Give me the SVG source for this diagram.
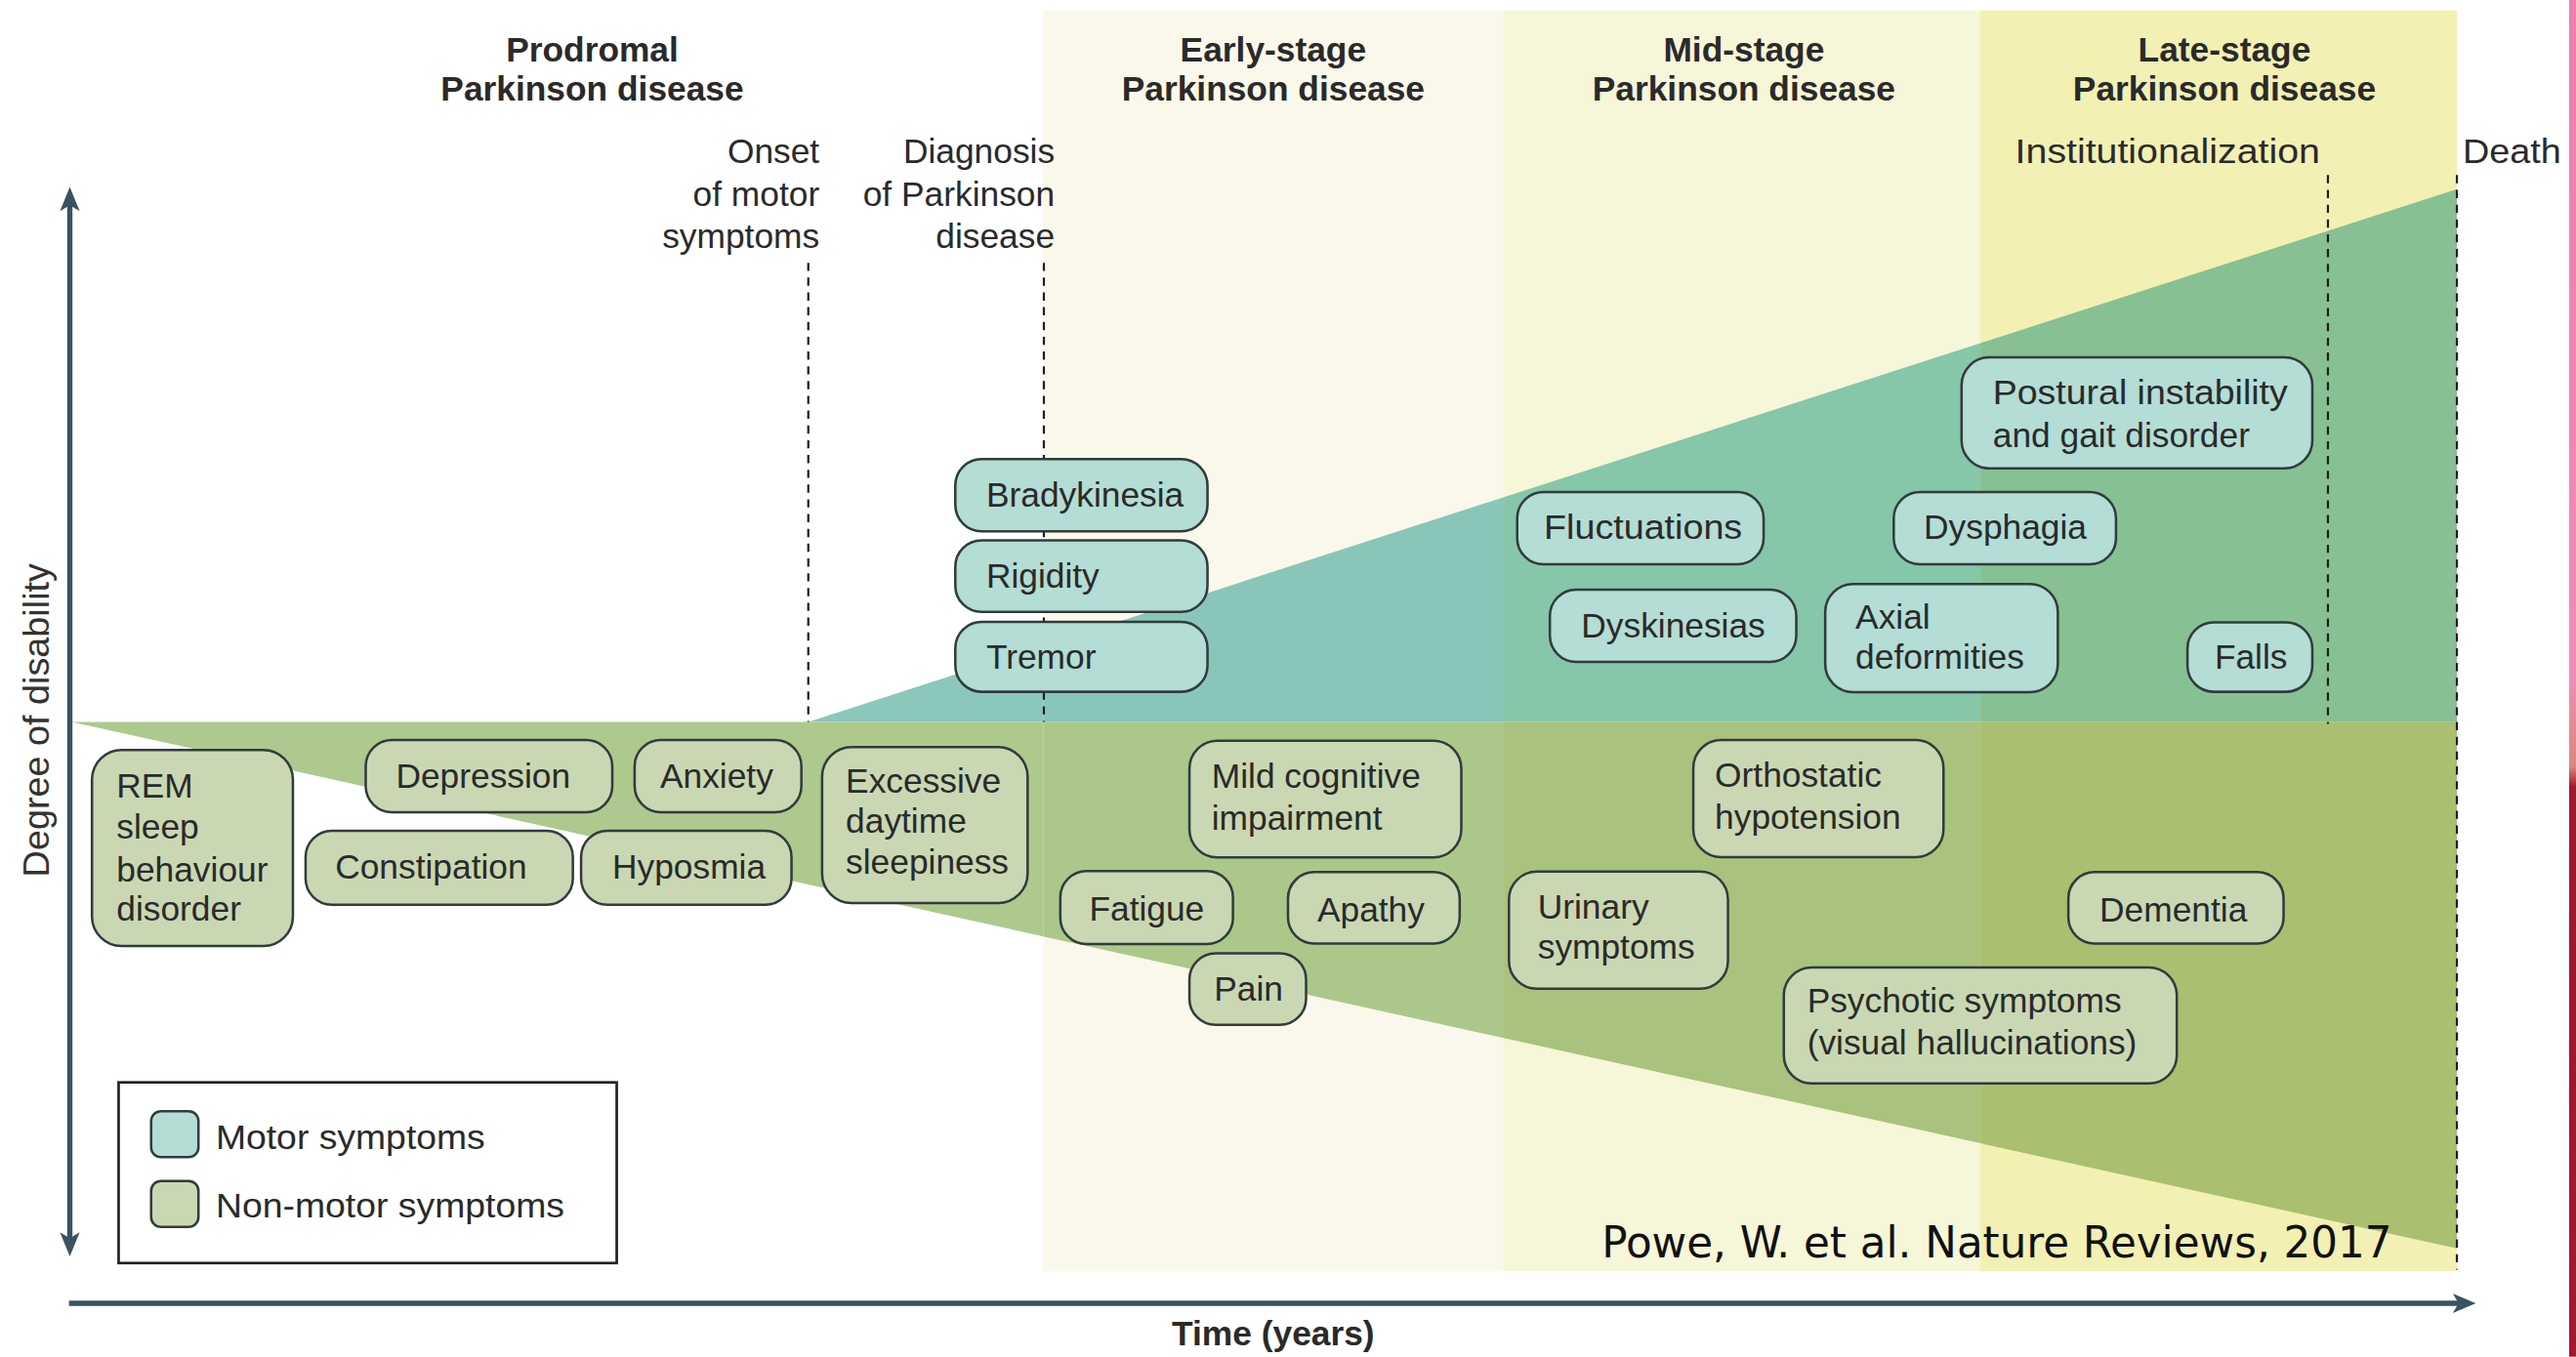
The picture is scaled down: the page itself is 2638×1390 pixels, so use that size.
<svg xmlns="http://www.w3.org/2000/svg" width="2638" height="1390" viewBox="0 0 2638 1390">
<defs>
<style>
.bg{stroke:none}
.m{fill:#b3ddd5;stroke:#323b3b;stroke-width:1.5}
.n{fill:#c9d8b3;stroke:#323b3b;stroke-width:1.5}
.t{font-family:'Liberation Sans',Arial,sans-serif;font-size:21px;fill:#2a2a2a}
.h{font-weight:bold;text-anchor:middle}
.r{text-anchor:end}
.d{stroke:#1e1e1e;stroke-width:1.3;stroke-dasharray:5 4;fill:none}
.ax{stroke:#3a5360;stroke-width:3.2;fill:none}
.ah{fill:#3a5360;stroke:none}
</style>
<linearGradient id="edge" x1="0" y1="0" x2="0" y2="1">
<stop offset="0" stop-color="#ec7fb2"/>
<stop offset="0.5" stop-color="#f08cba"/>
<stop offset="0.565" stop-color="#d98a7a"/>
<stop offset="0.58" stop-color="#9c1a2c"/>
<stop offset="1" stop-color="#a3182e"/>
</linearGradient>
</defs>
<rect x="0" y="0" width="2638" height="1390" fill="#ffffff"/>
<g transform="scale(1.6824)">
<g id="background">
<rect class="bg" x="635" y="6.3" width="280.4" height="767.7" fill="#faf8eb"/>
<rect class="bg" x="915.4" y="6.3" width="290.1" height="767.7" fill="#f6f6d8"/>
<rect class="bg" x="1205.5" y="6.3" width="290" height="767.7" fill="#f2f0b3"/>
<polygon class="bg" points="492,439.5 635,393.3 635,439.5" fill="#8bc7bb"/>
<polygon class="bg" points="635,393.3 915.4,302.7 915.4,439.5 635,439.5" fill="#89c6b9"/>
<polygon class="bg" points="915.4,302.7 1205.5,208.9 1205.5,439.5 915.4,439.5" fill="#86c6a9"/>
<polygon class="bg" points="1205.5,208.9 1495.5,115.2 1495.5,439.5 1205.5,439.5" fill="#87c093"/>
<polygon class="bg" points="43.5,439.5 635,439.5 635,570.1" fill="#adc98e"/>
<polygon class="bg" points="635,439.5 915.4,439.5 915.4,632 635,570.1" fill="#abc88a"/>
<polygon class="bg" points="915.4,439.5 1205.5,439.5 1205.5,696.1 915.4,632" fill="#a9c27e"/>
<polygon class="bg" points="1205.5,439.5 1495.5,439.5 1495.5,760.1 1205.5,696.1" fill="#aabf6f"/>
<rect class="bg" x="1563.8" y="0" width="4.5" height="826" fill="url(#edge)"/>
</g>
<g id="connectors">
<line class="d" x1="492" y1="160" x2="492" y2="439.5"/>
<line class="d" x1="635.4" y1="160" x2="635.4" y2="439.5"/>
<line class="d" x1="1417" y1="106.6" x2="1417" y2="440.8"/>
<line class="d" x1="1495.5" y1="106.6" x2="1495.5" y2="773"/>
<line class="ax" x1="42.5" y1="124" x2="42.5" y2="755"/>
<path class="ah" d="M42.5,113.8 L48.5,128.5 L42.5,125 L36.5,128.5 Z"/>
<path class="ah" d="M42.5,765 L48.5,750.3 L42.5,753.8 L36.5,750.3 Z"/>
<line class="ax" x1="42" y1="793.5" x2="1497" y2="793.5"/>
<path class="ah" d="M1507,793.5 L1493,787.5 L1496.5,793.5 L1493,799.5 Z"/>
</g>
<g id="labels">
<text class="t h" x="360.5" y="37.5">Prodromal</text>
<text class="t h" x="360.5" y="61.4">Parkinson disease</text>
<text class="t h" x="775" y="37.5">Early-stage</text>
<text class="t h" x="775" y="61.4">Parkinson disease</text>
<text class="t h" x="1061.5" y="37.5">Mid-stage</text>
<text class="t h" x="1061.5" y="61.4">Parkinson disease</text>
<text class="t h" x="1354" y="37.5">Late-stage</text>
<text class="t h" x="1354" y="61.4">Parkinson disease</text>
<text class="t r" x="498.8" y="99.4">Onset</text>
<text class="t r" x="498.8" y="125.3">of motor</text>
<text class="t r" x="498.8" y="151">symptoms</text>
<text class="t r" x="642" y="99.4">Diagnosis</text>
<text class="t r" x="642" y="125.3">of Parkinson</text>
<text class="t r" x="642" y="151">disease</text>
<text class="t" x="1226.6" y="99.4" textLength="185.6" lengthAdjust="spacingAndGlyphs">Institutionalization</text>
<text class="t" x="1499" y="99.4" textLength="60" lengthAdjust="spacingAndGlyphs">Death</text>
<text class="t" transform="translate(29.5,438.5) rotate(-90)" text-anchor="middle" style="font-size:22px;fill:#333" textLength="191" lengthAdjust="spacingAndGlyphs">Degree of disability</text>
<text class="t h" x="775" y="819">Time (years)</text>
<text x="975" y="765.7" style="font-family:'DejaVu Sans Condensed','DejaVu Sans',sans-serif;font-stretch:condensed;font-size:26px;fill:#111" textLength="481" lengthAdjust="spacingAndGlyphs">Powe, W. et al. Nature Reviews, 2017</text>
</g>
<g id="motor-bradykinesia"><rect class="m" x="581.5" y="279.5" width="153.5" height="44" rx="16"/><text class="t" x="600.3" y="308.5">Bradykinesia</text></g>
<g id="motor-rigidity"><rect class="m" x="581.5" y="329" width="153.5" height="43.6" rx="16"/><text class="t" x="600.3" y="358">Rigidity</text></g>
<g id="motor-tremor"><rect class="m" x="581.5" y="378.6" width="153.5" height="42.6" rx="16"/><text class="t" x="600.3" y="407.3">Tremor</text></g>
<g id="motor-fluctuations"><rect class="m" x="923.5" y="299.6" width="150" height="44" rx="16"/><text class="t" x="939.8" y="328" textLength="120.7" lengthAdjust="spacingAndGlyphs">Fluctuations</text></g>
<g id="motor-dyskinesias"><rect class="m" x="943.4" y="359" width="150" height="44" rx="16"/><text class="t" x="962.5" y="387.9">Dyskinesias</text></g>
<g id="motor-postural"><rect class="m" x="1194" y="217.5" width="213.5" height="67.7" rx="17"/><text class="t" x="1213" y="246.3"><tspan textLength="179.5" lengthAdjust="spacingAndGlyphs">Postural instability</tspan><tspan x="1213" y="272.3">and gait disorder</tspan></text></g>
<g id="motor-dysphagia"><rect class="m" x="1152.7" y="299.6" width="135.3" height="44" rx="16"/><text class="t" x="1171" y="328">Dysphagia</text></g>
<g id="motor-axial"><rect class="m" x="1111" y="355.6" width="141.6" height="65.8" rx="17"/><text class="t" x="1129.4" y="383">Axial<tspan x="1129.4" y="407">deformities</tspan></text></g>
<g id="motor-falls"><rect class="m" x="1331.5" y="378.9" width="76" height="42.3" rx="16"/><text class="t" x="1348" y="407.3">Falls</text></g>
<g id="nonmotor-rem"><rect class="n" x="56" y="456.6" width="122.3" height="119.4" rx="18"/><text class="t" x="70.9" y="485.5">REM<tspan x="70.9" y="510.8">sleep</tspan><tspan x="70.9" y="536.8">behaviour</tspan><tspan x="70.9" y="560.5">disorder</tspan></text></g>
<g id="nonmotor-depression"><rect class="n" x="222.6" y="450.6" width="150.1" height="43.9" rx="16"/><text class="t" x="241" y="479.7">Depression</text></g>
<g id="nonmotor-anxiety"><rect class="n" x="386.3" y="450.6" width="101.5" height="43.9" rx="16"/><text class="t" x="401.8" y="479.7">Anxiety</text></g>
<g id="nonmotor-constipation"><rect class="n" x="186" y="505.8" width="162.7" height="45" rx="16"/><text class="t" x="204" y="535">Constipation</text></g>
<g id="nonmotor-hyposmia"><rect class="n" x="353.7" y="505.8" width="128.1" height="45" rx="16"/><text class="t" x="372.7" y="535">Hyposmia</text></g>
<g id="nonmotor-eds"><rect class="n" x="500.4" y="454.8" width="125.1" height="95" rx="18"/><text class="t" x="514.8" y="482.7">Excessive<tspan x="514.8" y="507">daytime</tspan><tspan x="514.8" y="532">sleepiness</tspan></text></g>
<g id="nonmotor-mci"><rect class="n" x="724" y="451" width="165.5" height="71" rx="17"/><text class="t" x="737.5" y="479.7">Mild cognitive<tspan x="737.5" y="505">impairment</tspan></text></g>
<g id="nonmotor-fatigue"><rect class="n" x="645.4" y="530.4" width="105.1" height="44.4" rx="16"/><text class="t" x="663" y="560.5">Fatigue</text></g>
<g id="nonmotor-apathy"><rect class="n" x="784" y="531" width="104.5" height="43.5" rx="16"/><text class="t" x="801.8" y="560.9">Apathy</text></g>
<g id="nonmotor-pain"><rect class="n" x="724" y="580.4" width="71" height="43.6" rx="16"/><text class="t" x="739" y="609">Pain</text></g>
<g id="nonmotor-orthostatic"><rect class="n" x="1030.7" y="450.6" width="152.3" height="71.3" rx="17"/><text class="t" x="1043.8" y="478.9">Orthostatic<tspan x="1043.8" y="504.7">hypotension</tspan></text></g>
<g id="nonmotor-urinary"><rect class="n" x="918.5" y="530.6" width="133.3" height="71.4" rx="17"/><text class="t" x="936" y="559.6">Urinary<tspan x="936" y="583.7">symptoms</tspan></text></g>
<g id="nonmotor-dementia"><rect class="n" x="1259" y="531" width="131" height="43.5" rx="16"/><text class="t" x="1278" y="560.9">Dementia</text></g>
<g id="nonmotor-psychotic"><rect class="n" x="1085.8" y="589" width="239.2" height="70.6" rx="17"/><text class="t" x="1100" y="616.4">Psychotic symptoms<tspan x="1100" y="641.8">(visual hallucinations)</tspan></text></g>
<g id="legend">
<rect x="72.2" y="659" width="303.2" height="110" fill="#ffffff" stroke="#222" stroke-width="1.6"/>
<rect class="m" x="92" y="676.5" width="28.8" height="28" rx="6"/>
<rect class="n" x="92" y="719" width="28.8" height="28" rx="6"/>
<text class="t" x="131.3" y="699.5" textLength="164" lengthAdjust="spacingAndGlyphs">Motor symptoms</text>
<text class="t" x="131.3" y="741" textLength="212.3" lengthAdjust="spacingAndGlyphs">Non-motor symptoms</text>
</g>
</g>
</svg>
